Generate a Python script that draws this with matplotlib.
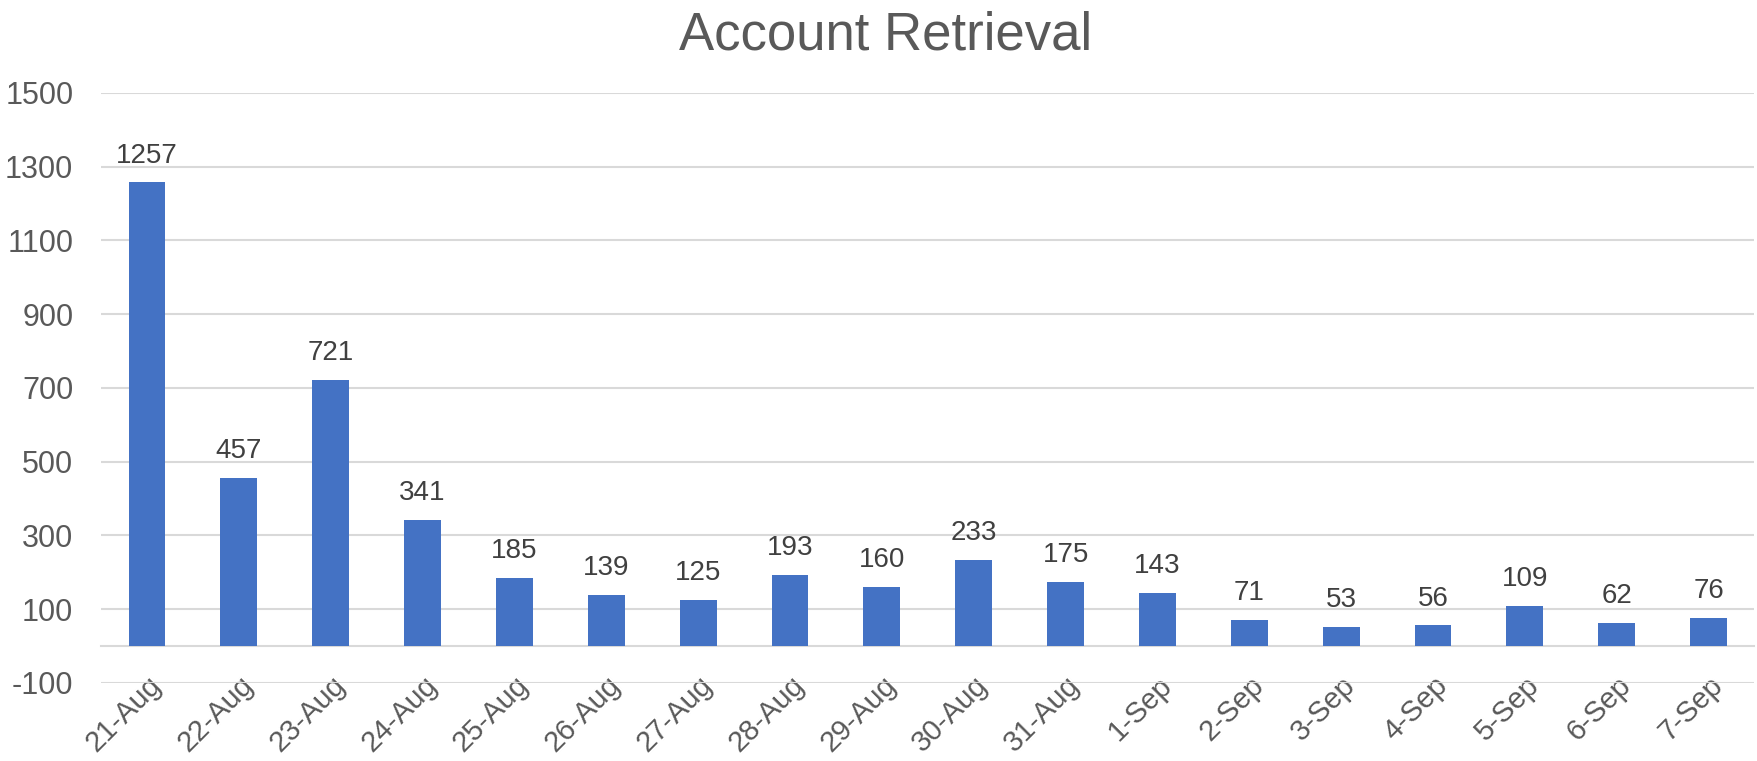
"""Account Retrieval — daily counts, Excel-style column chart."""
import matplotlib
matplotlib.use("Agg")
import matplotlib.pyplot as plt
import matplotlib.transforms as mtransforms
import numpy as np

plt.rcParams["font.family"] = ["Liberation Sans", "DejaVu Sans"]

dates = ["21-Aug", "22-Aug", "23-Aug", "24-Aug", "25-Aug", "26-Aug", "27-Aug",
         "28-Aug", "29-Aug", "30-Aug", "31-Aug", "1-Sep", "2-Sep", "3-Sep",
         "4-Sep", "5-Sep", "6-Sep", "7-Sep"]
retrievals = [1257, 457, 721, 341, 185, 139, 125, 193, 160, 233, 175, 143,
              71, 53, 56, 109, 62, 76]
y_ticks = [-100, 100, 300, 500, 700, 900, 1100, 1300, 1500]

BAR = "#4472C4"
GRID = "#D9D9D9"
TEXT = "#595959"

fig = plt.figure(figsize=(17.58, 7.61), dpi=100)
ax = fig.add_axes([0.0575, 0.1025, 0.9405, 0.7755])

x = np.arange(len(dates))
bars = ax.bar(x, retrievals, width=0.4, color=BAR, zorder=3)

for bar, v in zip(bars, retrievals):
    ax.annotate(f"{v}", xy=(bar.get_x() + bar.get_width() / 2, v),
                xytext=(0, 10), textcoords="offset points",
                ha="center", va="bottom", fontsize=20, color="#404040")

ax.set_xlim(-0.5, len(dates) - 0.5)
ax.set_ylim(-100, 1500)
ax.set_yticks(y_ticks)
ax.set_yticklabels([str(t) for t in y_ticks], fontsize=22, color=TEXT)
ax.grid(axis="y", color=GRID, linewidth=1.5, zorder=0)
ax.set_axisbelow(True)

# category axis sits at zero, like Excel
ax.spines["bottom"].set_position(("data", 0))
ax.spines["bottom"].set_color(GRID)
ax.spines["bottom"].set_linewidth(1.5)
for s in ("top", "right", "left"):
    ax.spines[s].set_visible(False)

ax.set_xticks(x)
ax.set_xticklabels(dates, rotation=45, ha="right", va="top",
                   rotation_mode="anchor", fontsize=21, color=TEXT)
shift = mtransforms.ScaledTranslation(8 / 72, 0, fig.dpi_scale_trans)
for lbl in ax.get_xticklabels():
    lbl.set_transform(lbl.get_transform() + shift)
ax.tick_params(axis="both", length=0)
ax.tick_params(axis="x", pad=18)
ax.tick_params(axis="y", pad=20)

fig.text(0.504, 0.953, "Account Retrieval", ha="center", va="center",
         fontsize=38, color=TEXT)

fig.savefig("out.png", dpi=100)
